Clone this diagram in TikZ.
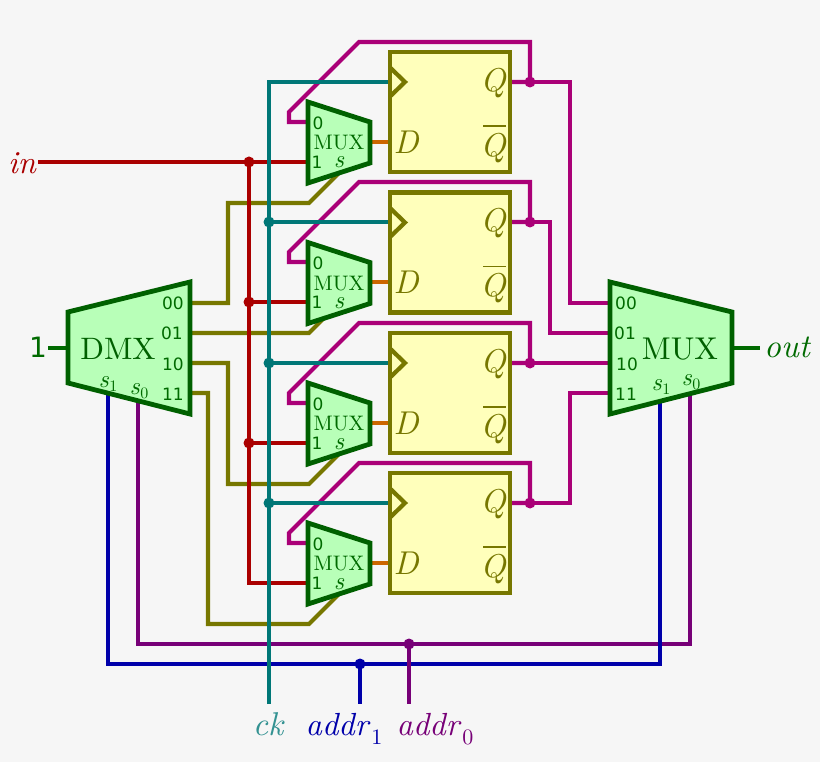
\documentclass[tikz,border=0pt]{standalone}
\usepackage{fontspec}
\newfontfamily\djv{DejaVu Sans}
\definecolor{bgc}{HTML}{F6F6F6}
\definecolor{gfill}{HTML}{B8FFB8}
\definecolor{gline}{HTML}{006000}
\definecolor{gtext}{HTML}{006A00}
\definecolor{ffill}{HTML}{FFFFBB}
\definecolor{oliv}{HTML}{777700}
\definecolor{magn}{HTML}{AA0077}
\definecolor{teal2}{HTML}{007777}
\definecolor{redw}{HTML}{AA0000}
\definecolor{bluew}{HTML}{0000AA}
\definecolor{purw}{HTML}{770077}
\definecolor{oran}{HTML}{CC6600}
\newcommand{\fsz}[1]{\fontsize{#1}{#1}\selectfont}
\newcommand{\rmF}[1]{\font\tmprm="[lmroman10-regular]" at #1pt\tmprm}
\newcommand{\itF}[1]{\font\tmpit="[lmroman10-italic]" at #1pt\tmpit}
\newcommand{\lowsub}[4]{\kern#4pt\raisebox{-#2pt}{\rmF{#1}#3}}
\tikzset{
  x=1pt,y=-1pt,
  wire/.style={line width=4.2pt,line join=miter},
  gate/.style={line width=4.8pt,draw=gline,fill=gfill,line join=miter},
  ffbox/.style={draw=oliv,fill=ffill,line width=4.6pt,minimum width=120pt,minimum height=120pt,inner sep=0pt,outer sep=0pt},
  dotn/.style={circle,inner sep=0pt,outer sep=0pt,minimum size=11pt},
  lab/.style={inner sep=0pt,outer sep=0pt,anchor=base},
  ctr/.style={inner sep=0pt,outer sep=0pt,anchor=center},
  pinb/.style={ctr,text=gtext,font=\djv\fsz{17}},
  pins/.style={ctr,text=gtext,font=\djv\fsz{17}},
  ffq/.style={ctr,text=oliv,font=\itF{33}},
  sel/.style={lab,text=gtext,font=\itF{25}},
}
\begin{document}
\begin{tikzpicture}
\useasboundingbox (0,0) rectangle (820,762);
\fill[bgc] (0,0) rectangle (820,762);

% named points
\foreach \i/\yo in {1/0,2/140,3/281,4/421}{
  \coordinate (q\i) at (510,82+\yo);
  \coordinate (ck\i) at (389,82+\yo);
  \coordinate (j\i) at (530,82+\yo);
  \coordinate (up\i) at (530,42+\yo);
  \coordinate (ut\i) at (359,42+\yo);
  \coordinate (ub\i) at (289,112+\yo);
  \coordinate (uc\i) at (289,122+\yo);
  \coordinate (m\i a) at (308,122+\yo);
  \coordinate (m\i b) at (308,162+\yo);
  \coordinate (r\i) at (249,162+\yo);
  \coordinate (t\i) at (269,82+\yo);
  \coordinate (m\i o) at (370,142+\yo);
  \coordinate (dp\i) at (389,142+\yo);
}
\coordinate (dO0) at (190,303);
\coordinate (dO1) at (190,333);
\coordinate (dO2) at (190,363);
\coordinate (dO3) at (190,393);
\coordinate (mI0) at (610,303);
\coordinate (mI1) at (610,333);
\coordinate (mI2) at (610,363);
\coordinate (mI3) at (610,393);
\coordinate (inS) at (38,162);
\coordinate (ckE) at (269,704);
\coordinate (a1E) at (360,704);
\coordinate (a0E) at (409,704);
\coordinate (oneE) at (48,348);
\coordinate (dI) at (68,348);
\coordinate (mO) at (732,348);
\coordinate (outE) at (760,348);
\coordinate (ds1) at (108,394);
\coordinate (ds0) at (138,402);
\coordinate (ms1) at (660,402);
\coordinate (ms0) at (690,394);
\coordinate (a1J) at (360,664);
\coordinate (a0J) at (409,644);

% olive select wires
\draw[wire,oliv] (dO0) -- (228,303) -- (228,203) -- (309,203) -- (339,173);
\draw[wire,oliv] (dO1) -- (309,333) -- (330,312);
\draw[wire,oliv] (dO2) -- (228,363) -- (228,484) -- (309,484) -- (339,454);
\draw[wire,oliv] (dO3) -- (208,393) -- (208,624) -- (309,624) -- (339,594);

% address wires
\draw[wire,purw] (ds0) -- (138,644) -- (690,644) -- (ms0);
\draw[wire,bluew] (ds1) -- (108,664) -- (660,664) -- (ms1);
\draw[wire,bluew] (a1J) -- (a1E);
\draw[wire,purw] (a0J) -- (a0E);
\node[dotn,fill=bluew] (da1) at (a1J) {};
\node[dotn,fill=purw] (da0) at (a0J) {};

% feedback and output wires
\foreach \i in {1,...,4}{
  \draw[wire,magn] (q\i) -- (j\i) -- (up\i) -- (ut\i) -- (ub\i) -- (uc\i) -- (m\i a);
  \node[dotn,fill=magn] (dq\i) at (j\i) {};
}
\draw[wire,magn] (j1) -- (570,82) -- (570,303) -- (mI0);
\draw[wire,magn] (j2) -- (550,222) -- (550,333) -- (mI1);
\draw[wire,magn] (j3) -- (mI2);
\draw[wire,magn] (j4) -- (570,503) -- (570,393) -- (mI3);

% data in
\draw[wire,redw] (inS) -- (m1b);
\draw[wire,redw] (r1) -- (r4) -- (m4b);
\draw[wire,redw] (r2) -- (m2b);
\draw[wire,redw] (r3) -- (m3b);
\node[dotn,fill=redw] (dr1) at (r1) {};
\node[dotn,fill=redw] (dr2) at (r2) {};
\node[dotn,fill=redw] (dr3) at (r3) {};

% clock
\draw[wire,teal2] (ckE) -- (t1) -- (ck1);
\draw[wire,teal2] (t2) -- (ck2);
\draw[wire,teal2] (t3) -- (ck3);
\draw[wire,teal2] (t4) -- (ck4);
\node[dotn,fill=teal2] (dt2) at (t2) {};
\node[dotn,fill=teal2] (dt3) at (t3) {};
\node[dotn,fill=teal2] (dt4) at (t4) {};

% other stubs
\draw[wire,gtext] (oneE) -- (dI);
\draw[wire,gtext] (mO) -- (outE);
\foreach \i in {1,...,4}{\draw[wire,oran] (m\i o) -- (dp\i);}

% flip-flops and their multiplexers
\foreach \i/\yo in {1/0,2/140.5,3/281,4/421}{
  \node[ffbox] (ff\i) at (450,112+\yo) {};
  \draw[wire,oliv] (390,67.5+\yo) -- (405,82+\yo) -- (390,96.5+\yo);
  \node[ffq] (ffd\i) at (406,142+\yo) {D};
  \node[ffq] (ffq\i) at (493,83+\yo) {Q};
  \node[ffq] (ffn\i) at (493,148+\yo) {Q};
  \draw[oliv,line width=1.6pt] (483,126+\yo) -- (506,126+\yo);
  \draw[gate] (308,102+\yo) -- (370,122+\yo) -- (370,163+\yo) -- (308,183+\yo) -- cycle;
  \node[pins] (ml0\i) at (318,123+\yo) {0};
  \node[pins] (ml1\i) at (317,162+\yo) {1};
  \node[ctr,text=gtext,font=\rmF{21}] (mln\i) at (339,143+\yo) {MUX};
  \node[sel] (mls\i) at (339,168+\yo) {s};
}

% demultiplexer
\draw[gate] (68,312) -- (190,282) -- (190,414) -- (68,383) -- cycle;
\node[ctr,text=gline,font=\rmF{31}] (dmx) at (118,349) {DMX};
\node[pinb] (d00) at (173,303) {00};
\node[pinb] (d01) at (172,333) {01};
\node[pinb] (d10) at (173,364) {10};
\node[pinb] (d11) at (173,394) {11};
\node[sel] (dsa) at (108,387) {s\lowsub{16}{4}{1}{0.5}};
\node[sel] (dsb) at (139,394) {s\lowsub{16}{4}{0}{0.5}};

% multiplexer
\draw[gate] (610,282) -- (732,312) -- (732,383) -- (610,414) -- cycle;
\node[ctr,text=gline,font=\rmF{31.5}] (mux) at (680,349) {MUX};
\node[pinb] (m00) at (626,303) {00};
\node[pinb] (m01) at (625,333) {01};
\node[pinb] (m10) at (627,364) {10};
\node[pinb] (m11) at (626,394) {11};
\node[sel] (msa) at (661,390) {s\lowsub{16}{4}{1}{0.5}};
\node[sel] (msb) at (691,385) {s\lowsub{16}{4}{0}{0.5}};

% outer labels
\node[lab,text=redw,font=\itF{32}] (lin) at (22,174) {in};
\node[lab,text=gtext,font=\djv\fsz{28}] (lone) at (38,358) {1};
\node[lab,text=gtext,font=\itF{33}] (lout) at (787,357) {out};
\node[lab,text=teal2!80!white,font=\itF{33}] (lck) at (268,735) {ck};
\node[lab,text=bluew,font=\itF{32}] (la1) at (344,735) {addr\lowsub{22}{9}{1}{3}};
\node[lab,text=purw,font=\itF{32}] (la0) at (435,735) {addr\lowsub{22}{9}{0}{3}};
\end{tikzpicture}
\end{document}
